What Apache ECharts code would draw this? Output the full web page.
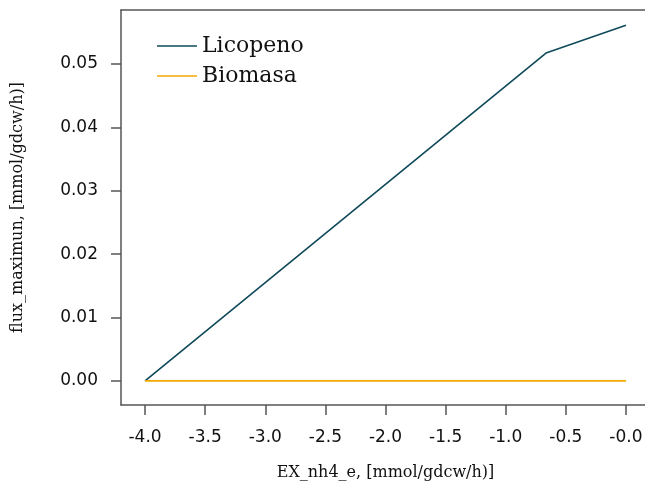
<!DOCTYPE html>
<html><head><meta charset="utf-8">
<script src="https://cdn.jsdelivr.net/npm/echarts@6/dist/echarts.min.js"></script>
<style>html,body{margin:0;padding:0;background:#fff}#c{width:645px;height:484px}</style>
</head><body><div id="c"></div>
<script>
const seriesNames = ['Licopeno', 'Biomasa'];
const licopenoX = [-4.0, -0.665, 0.0];
const licopenoY = [0.0, 0.0517, 0.0561];
const biomasaX = [-4.0, 0.0];
const biomasaY = [0.0, 0.0];
const xTicks = [-4.0, -3.5, -3.0, -2.5, -2.0, -1.5, -1.0, -0.5, 0.0];
const xTickLabels = ['-4.0', '-3.5', '-3.0', '-2.5', '-2.0', '-1.5', '-1.0', '-0.5', '-0.0'];
const yTicks = [0.0, 0.01, 0.02, 0.03, 0.04, 0.05];
const yTickLabels = ['0.00', '0.01', '0.02', '0.03', '0.04', '0.05'];
const xName = 'EX_nh4_e, [mmol/gdcw/h)]';
const yName = 'flux_maximun, [mmol/gdcw/h)]';

const axisColor = '#555555';
const serif = '"DejaVu Serif", "Liberation Serif", serif';
const sans = '"DejaVu Sans", "Open Sans", sans-serif';

const chart = echarts.init(document.getElementById('c'));
chart.setOption({
  animation: false,
  backgroundColor: '#ffffff',
  grid: {left: 121, top: 10, width: 529, height: 395, outerBoundsMode: 'none', containLabel: false},
  legend: {
    left: 152, top: 26, orient: 'vertical', itemGap: 0,
    icon: 'rect', itemWidth: 40, itemHeight: 1.5,
    textStyle: {fontFamily: serif, fontSize: 22, color: '#111', lineHeight: 30},
    data: seriesNames
  },
  xAxis: [{
    type: 'value', min: -4.2, max: 0.2, position: 'bottom',
    name: xName, nameLocation: 'middle', nameGap: 60,
    nameTextStyle: {fontFamily: serif, fontSize: 16, color: '#111'},
    axisLine: {show: true, onZero: false, lineStyle: {color: axisColor, width: 1.5}},
    splitLine: {show: false},
    axisTick: {show: true, length: 10, customValues: xTicks, lineStyle: {color: axisColor, width: 1.5}},
    axisLabel: {customValues: xTicks, margin: 24, fontFamily: sans, fontSize: 17, color: '#111',
      formatter: v => { const i = xTicks.findIndex(t => Math.abs(t - v) < 1e-9); return i >= 0 ? xTickLabels[i] : ''; }}
  }, {
    type: 'value', min: -4.2, max: 0.2, position: 'top',
    axisLine: {show: true, onZero: false, lineStyle: {color: axisColor, width: 1.5}},
    splitLine: {show: false}, axisTick: {show: false}, axisLabel: {show: false}
  }],
  yAxis: {
    type: 'value', min: -0.0038, max: 0.0585,
    name: yName, nameLocation: 'middle', nameGap: 95,
    nameTextStyle: {fontFamily: serif, fontSize: 16, color: '#111'},
    axisLine: {show: true, onZero: false, lineStyle: {color: axisColor, width: 1.5}},
    splitLine: {show: false},
    axisTick: {show: true, length: 10, customValues: yTicks, lineStyle: {color: axisColor, width: 1.5}},
    axisLabel: {customValues: yTicks, margin: 23, fontFamily: sans, fontSize: 17, color: '#111',
      formatter: v => { const i = yTicks.findIndex(t => Math.abs(t - v) < 1e-9); return i >= 0 ? yTickLabels[i] : ''; }}
  },
  series: [
    {name: seriesNames[0], type: 'line', symbol: 'none', color: '#0e4a5a', xAxisIndex: 0,
     lineStyle: {width: 1.6, color: '#0e4a5a'},
     data: licopenoX.map((x, i) => [x, licopenoY[i]])},
    {name: seriesNames[1], type: 'line', symbol: 'none', color: '#f2a900', xAxisIndex: 0,
     lineStyle: {width: 1.6, color: '#f2a900'},
     data: biomasaX.map((x, i) => [x, biomasaY[i]])}
  ]
});
</script></body></html>
